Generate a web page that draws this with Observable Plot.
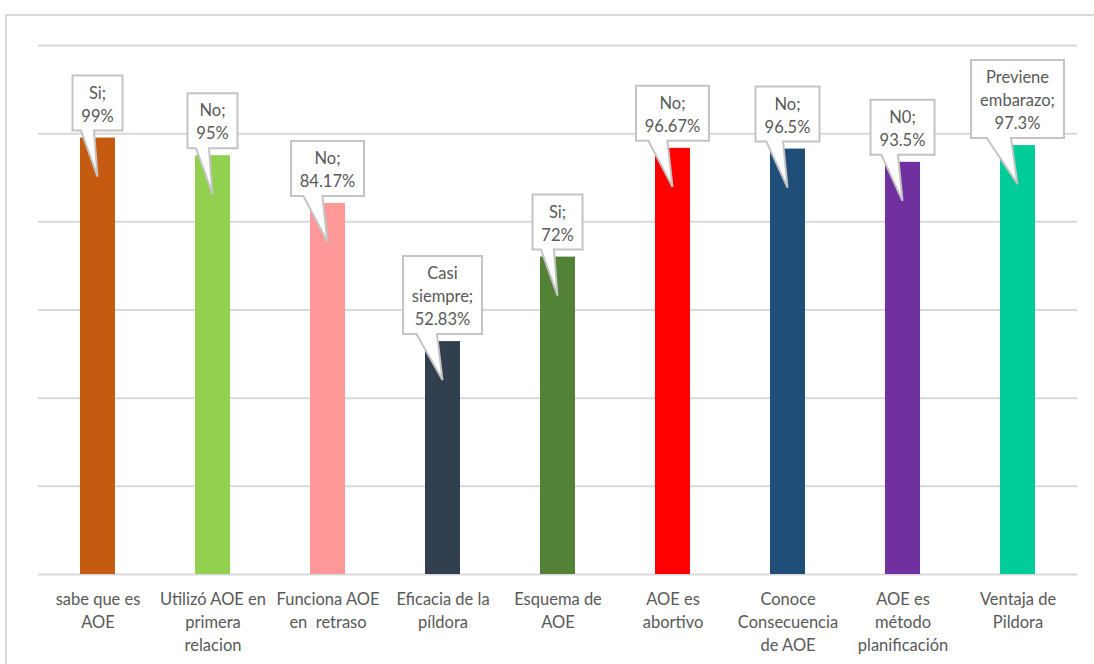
<!DOCTYPE html>
<html><head><meta charset="utf-8">
<script src="https://cdn.jsdelivr.net/npm/d3@7"></script>
<script src="https://cdn.jsdelivr.net/npm/@observablehq/plot@0.6"></script>
<style>
body{margin:0;background:#fff;overflow:hidden}
#frame{position:absolute;left:5px;top:14px;width:1200px;height:800px;border:2px solid #d9d9d9;box-sizing:border-box}
#chart{position:absolute;left:0;top:0}
</style></head><body><div id="frame"></div><div id="chart"></div>
<script>
const categories = ["sabe que es AOE","Utilizó AOE en primera relacion","Funciona AOE en retraso","Eficacia de la píldora","Esquema de AOE","AOE es abortivo","Conoce Consecuencia de AOE","AOE es método planificación","Ventaja de Pildora"];
const tickLabels = ["sabe que es\nAOE","Utilizó AOE en\nprimera\nrelacion","Funciona AOE\nen  retraso","Eficacia de la\npíldora","Esquema de\nAOE","AOE es\nabortivo","Conoce\nConsecuencia\nde AOE","AOE es\nmétodo\nplanificación","Ventaja de\nPildora"];
const answers = ["Si;","No;","No;","Casi\nsiempre;","Si;","No;","No;","N0;","Previene\nembarazo;"];
const values = [99,95,84.17,52.83,72,96.67,96.5,93.5,97.3];
const colors = ["#C55A11","#92D050","#FF9999","#323F4F","#538135","#FF0000","#1F4E79","#7030A0","#00CC99"];
const gridTicks = [0,20,40,60,80,100,120];

const fontFamily = "Lato, 'Open Sans', sans-serif";
const fs = 16.5;
const data = categories.map((c,i)=>({cat:c, value:values[i], color:colors[i], label: answers[i] + "\n" + values[i] + "%"}));

const ctx2d = document.createElement("canvas").getContext("2d");
ctx2d.font = `${fs}px ${fontFamily}`;

function withCallouts(index, scales, vals, dims, context, next) {
  const g = next(index, scales, vals, dims, context);
  const rects = Array.from(g.querySelectorAll("rect"));
  const sel = d3.select(g);
  rects.forEach((r, j) => {
    const d = data[index[j]];
    const rx = +r.getAttribute("x"), rw = +r.getAttribute("width"), top = +r.getAttribute("y");
    const cx = rx + rw/2;
    const lines = d.label.split("\n");
    const tw = Math.max(...lines.map(l => ctx2d.measureText(l).width));
    const w = Math.round(tw + 18);
    const h = lines.length*23 + 9;
    const bottom = top - 7;
    const ytop = bottom - h;
    const left = cx - w/2;
    const tipY = top + 39;
    const p = `M${left},${ytop}H${left+w}V${bottom}H${left+0.43*w}L${cx},${tipY}L${left+0.17*w},${bottom}H${left}Z`;
    sel.append("path").attr("d", p).attr("fill","#fff").attr("stroke","#c4c4c4").attr("stroke-width",2);
    const t = sel.append("text").attr("text-anchor","middle").attr("fill","#595959").attr("font-size",fs).attr("font-family",fontFamily);
    lines.forEach((l,i)=> t.append("tspan").attr("x",cx).attr("y", ytop + 23 + i*23).text(l));
  });
  return g;
}

const plot = Plot.plot({
  width:1094, height:664, marginTop:45, marginBottom:90, marginLeft:38, marginRight:17,
  x:{domain:categories, paddingInner:0.7, paddingOuter:0.35, align:0.5, label:null},
  y:{domain:[0,120], axis:null},
  color:{type:"identity"},
  style:{fontFamily, fontSize:fs+"px", color:"#595959", background:"transparent"},
  marks:[
    Plot.ruleY(gridTicks,{stroke:"#d9d9d9", strokeWidth:2, strokeOpacity:1}),
    Plot.barY(data,{x:"cat", y:"value", fill:"color", render: withCallouts}),
    Plot.axisX({tickSize:0, tickPadding:14, lineHeight:23/fs, fontSize:fs, fill:"#595959", label:null,
      tickFormat: d => tickLabels[categories.indexOf(d)]})
  ]
});
document.getElementById("chart").append(plot);
</script></body></html>
